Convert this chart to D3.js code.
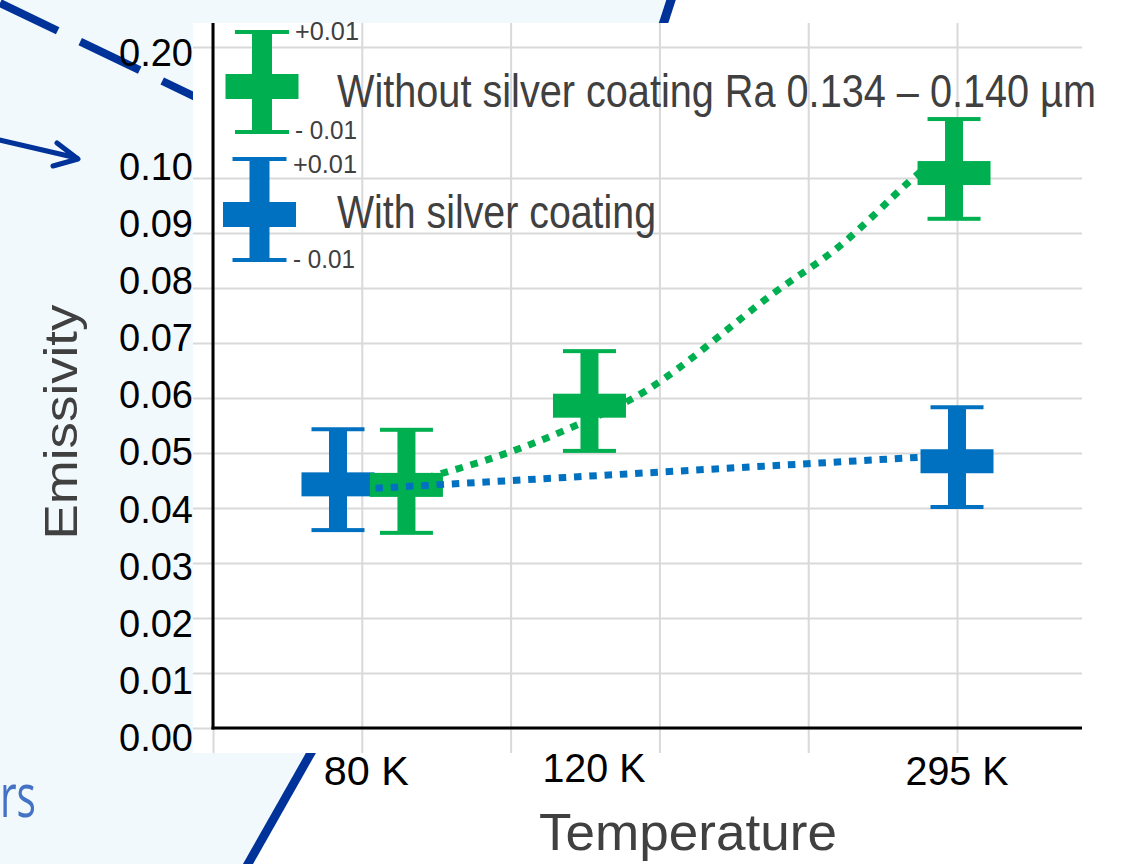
<!DOCTYPE html>
<html>
<head>
<meta charset="utf-8">
<script src="https://cdn.jsdelivr.net/npm/d3@7"></script>
<style>
  html, body { margin: 0; padding: 0; background: #f2f9fd; }
  svg { display: block; }
  text { font-family: "Liberation Sans", Arial, sans-serif; }
</style>
</head>
<body>
<svg id="chart" width="1132" height="864"></svg>
<script>
// ---------------- data ----------------
const categories = ["80 K", "120 K", "295 K"];
const categoryX = [1.03, 2.56, 5.0];

const seriesNames = ["Without silver coating Ra 0.134 \u2013 0.140 \u00b5m", "With silver coating"];

const greenX = [1.30, 2.53, 4.98];
const greenValues = [0.0442, 0.0586, 0.1009];
const greenUpper = [0.0544, 0.0687, 0.1109];
const greenLower = [0.0353, 0.0502, 0.0924];

const blueX = [0.84, 5.0];
const blueValues = [0.0443, 0.0485];
const blueUpper = [0.0545, 0.0585];
const blueLower = [0.0358, 0.0400];

const greenTrendX = [1.30, 1.88, 2.37, 2.92, 3.75, 4.21, 4.66, 4.77];
const greenTrendValues = [0.0445, 0.0491, 0.0542, 0.0615, 0.0787, 0.0876, 0.0989, 0.1015];
const blueTrendX = [0.84, 5.0];
const blueTrendValues = [0.0432, 0.0496];

// broken axis: the top gridline (labelled 0.20) sits just above the 0.10 range
const yTickValues = [0, 0.01, 0.02, 0.03, 0.04, 0.05, 0.06, 0.07, 0.08, 0.09, 0.10, 0.1238];
const yTickLabels = ["0.00", "0.01", "0.02", "0.03", "0.04", "0.05", "0.06", "0.07", "0.08", "0.09", "0.10", "0.20"];
const xGridTicks = [0, 1, 2, 3, 4, 5];
const errorLabels = ["+0.01", "- 0.01"];

// ---------------- setup ----------------
const GREEN = "#00b050", BLUE = "#0070c0", DARK = "#003399", GRID = "#d9d9d9", TXT = "#404040";
const svg = d3.select("#chart");

const x = d3.scaleLinear().domain([0, 5.84]).range([213, 1082]);
const yGrid = d3.scaleLinear().domain([0, 0.1]).range([728, 178]);
const yLabel = d3.scaleLinear().domain([0, 0.1, 0.1238]).range([737.5, 166, 52.5]);

// background slide decoration
svg.append("rect").attr("width", 1132).attr("height", 864).attr("fill", "#f2f9fd");
svg.append("path")
  .attr("d", "M193,23 L663.5,23 L671,0 L1132,0 L1132,864 L248,864 L311,753 L193,753 Z")
  .attr("fill", "#ffffff");

// dashed line top-left
svg.append("line").attr("x1", 0).attr("y1", 3).attr("x2", 260).attr("y2", 128)
  .attr("stroke", DARK).attr("stroke-width", 8).attr("stroke-dasharray", "66 25")
  .attr("stroke-dashoffset", 2);
// arrow
svg.append("path").attr("d", "M-5,139 L77,158 M57,143 L78,159 L53,166")
  .attr("fill", "none").attr("stroke", DARK).attr("stroke-width", 5)
  .attr("stroke-linecap", "round").attr("stroke-linejoin", "round");
// diagonal lines
svg.append("line").attr("x1", 672.3).attr("y1", -4).attr("x2", 660).attr("y2", 34)
  .attr("stroke", DARK).attr("stroke-width", 9);
svg.append("line").attr("x1", 316).attr("y1", 744).attr("x2", 244).attr("y2", 871)
  .attr("stroke", DARK).attr("stroke-width", 8.7);
svg.append("rect").attr("x", 193).attr("y", 23).attr("width", 939).attr("height", 730).attr("fill", "#fff");

// partial slide word
svg.append("text").attr("x", 0).attr("y", 817)
  .style("font-family", "'Open Sans', 'Noto Sans', sans-serif")
  .attr("font-size", 60).attr("fill", "#4472c4")
  .attr("textLength", 36).attr("lengthAdjust", "spacingAndGlyphs").text("rs");

// ---------------- grid ----------------
const gy = svg.append("g").attr("transform", "translate(193,0)")
  .call(d3.axisLeft(yGrid).tickValues(yTickValues).tickSize(-(1082 - 193)).tickFormat(""));
const gx = svg.append("g").attr("transform", "translate(0,753)")
  .call(d3.axisBottom(x).tickValues(xGridTicks).tickSize(-730).tickFormat(""));
[gy, gx].forEach(g => {
  g.select(".domain").remove();
  g.selectAll(".tick line").attr("stroke", GRID).attr("stroke-width", 2);
});

// axes lines
svg.append("line").attr("x1", x(0)).attr("x2", x(0)).attr("y1", 23).attr("y2", yGrid(0) + 1.5)
  .attr("stroke", "#000").attr("stroke-width", 3);
svg.append("line").attr("x1", x(0) - 1.5).attr("x2", x(5.84)).attr("y1", yGrid(0)).attr("y2", yGrid(0))
  .attr("stroke", "#000").attr("stroke-width", 3);

// y tick labels
svg.append("g").selectAll("text").data(yTickValues).join("text")
  .attr("x", 193).attr("y", d => yLabel(d)).attr("dy", "0.358em")
  .attr("text-anchor", "end").attr("font-size", 38).attr("fill", "#000")
  .text((d, i) => yTickLabels[i]);

// x category labels
svg.append("g").selectAll("text").data(categories).join("text")
  .attr("x", (d, i) => x(categoryX[i])).attr("y", (d, i) => i === 1 ? 782 : 785)
  .attr("text-anchor", "middle").attr("font-size", 40).attr("fill", "#000")
  .attr("textLength", (d, i) => d.length === 4 ? 85 : 103).attr("lengthAdjust", "spacingAndGlyphs")
  .text(d => d);

// axis titles
svg.append("text").attr("transform", "translate(77,422) rotate(-90)")
  .attr("text-anchor", "middle").attr("font-size", 46).attr("fill", TXT)
  .attr("textLength", 235).attr("lengthAdjust", "spacingAndGlyphs").text("Emissivity");
svg.append("text").attr("x", 688).attr("y", 850)
  .attr("text-anchor", "middle").attr("font-size", 52).attr("fill", TXT)
  .attr("textLength", 298).attr("lengthAdjust", "spacingAndGlyphs").text("Temperature");

// ---------------- markers ----------------
function drawCross(g, cx, cy, top, bottom, color, barW, capW, crossW, crossH) {
  g.append("rect").attr("x", cx - barW / 2).attr("y", top).attr("width", barW).attr("height", bottom - top).attr("fill", color);
  g.append("rect").attr("x", cx - capW / 2).attr("y", top - 1).attr("width", capW).attr("height", 4).attr("fill", color);
  g.append("rect").attr("x", cx - capW / 2).attr("y", bottom - 3).attr("width", capW).attr("height", 4).attr("fill", color);
  g.append("rect").attr("x", cx - crossW / 2).attr("y", cy - crossH / 2).attr("width", crossW).attr("height", crossH).attr("fill", color);
}

const markers = svg.append("g");
blueValues.forEach((v, i) => {
  drawCross(markers.append("g"), x(blueX[i]), yGrid(v), yGrid(blueUpper[i]), yGrid(blueLower[i]), BLUE, 18, 53, 73, 24);
});
greenValues.forEach((v, i) => {
  drawCross(markers.append("g"), x(greenX[i]), yGrid(v), yGrid(greenUpper[i]), yGrid(greenLower[i]), GREEN, 18, 53, 73, 24);
});

// dotted trend lines
const greenLine = d3.line().x(d => x(d[0])).y(d => yGrid(d[1])).curve(d3.curveCatmullRom.alpha(0.5));
svg.append("path").datum(greenTrendX.map((xv, i) => [xv, greenTrendValues[i]]))
  .attr("d", greenLine).attr("fill", "none").attr("stroke", GREEN)
  .attr("stroke-width", 7).attr("stroke-dasharray", "7.5 7.8").attr("stroke-dashoffset", 10);
const blueLine = d3.line().x(d => x(d[0])).y(d => yGrid(d[1]));
svg.append("path").datum(blueTrendX.map((xv, i) => [xv, blueTrendValues[i]]))
  .attr("d", blueLine).attr("fill", "none").attr("stroke", BLUE)
  .attr("stroke-width", 7).attr("stroke-dasharray", "7.5 7.8").attr("stroke-dashoffset", 8.4);

// ---------------- legend ----------------
const legend = svg.append("g");
const legendItems = [
  { color: GREEN, cx: 262, cy: 86.5, top: 31, bottom: 133, name: seriesNames[0], tl: 759, base: 107, ex: 295, plusY: 31, minusY: 130 },
  { color: BLUE, cx: 259.5, cy: 214.5, top: 158, bottom: 261, name: seriesNames[1], tl: 319, base: 228, ex: 293, plusY: 164, minusY: 259 }
];
legendItems.forEach(it => {
  drawCross(legend.append("g"), it.cx, it.cy, it.top, it.bottom, it.color, 20, 54, 73, 25);
  legend.append("text").attr("x", 337).attr("y", it.base).attr("font-size", 46).attr("fill", TXT)
    .attr("textLength", it.tl).attr("lengthAdjust", "spacingAndGlyphs").text(it.name);
  legend.append("text").attr("x", it.ex).attr("y", it.plusY).attr("dy", "0.358em")
    .attr("font-size", 26).attr("fill", TXT).attr("textLength", 64).attr("lengthAdjust", "spacingAndGlyphs").text(errorLabels[0]);
  legend.append("text").attr("x", it.ex).attr("y", it.minusY).attr("dy", "0.358em")
    .attr("font-size", 26).attr("fill", TXT).attr("textLength", 62).attr("lengthAdjust", "spacingAndGlyphs").text(errorLabels[1]);
});
</script>
</body>
</html>
